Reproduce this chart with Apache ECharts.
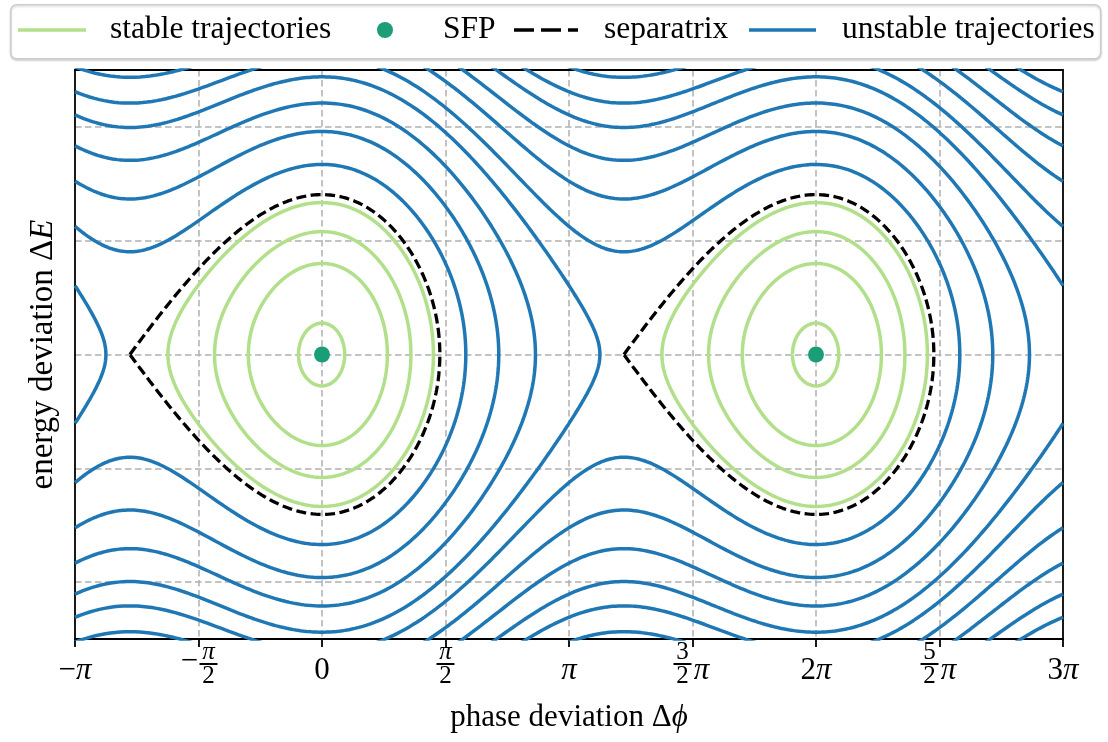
<!DOCTYPE html>
<html>
<head>
<meta charset="utf-8">
<script src="https://cdn.jsdelivr.net/npm/echarts@6/dist/echarts.min.js"></script>
<style>
  html, body { margin: 0; padding: 0; background: #ffffff; }
  #chart { width: 1108px; height: 742px; }
</style>
</head>
<body>
<div id="chart"></div>
<script>
// ---- values -------------------------------------------------------------
// synchronous phase of the accelerating bucket (degrees)
const syncPhaseDeg = -20;
// half height of the separatrix at the stable fixed point (energy units)
const separatrixHeight = 1.405;
// energy deviation of each stable orbit above the SFP
const stableHeights = [0.276, 0.80, 1.08, 1.335];
// energy deviation where each open trajectory crosses Δϕ = 0
const unstableHeights = [1.67, 1.96, 2.21, 2.44];
// stable fixed points, in units of π
const sfpPhases = [0, 2];
// axis extents (phase in units of π)
const phaseRange = [-1, 3];
const energyRange = [-2.5, 2.5];
const phaseTicks = [-1, -0.5, 0, 0.5, 1, 1.5, 2, 2.5, 3];
const phaseTickLabels = ['−π', '−π/2', '0', 'π/2', 'π', '3/2π', '2π', '5/2π', '3π'];
const legendNames = ['stable trajectories', 'SFP', 'separatrix', 'unstable trajectories'];

// ---- longitudinal Hamiltonian  H = p²/2 + W(ϕ) ---------------------------
const PI = Math.PI;
const phs = syncPhaseDeg * PI / 180;
const sinS = Math.sin(phs), cosS = Math.cos(phs);
const W = phi => cosS - Math.cos(phi + phs) - phi * sinS;   // W(0) = 0 at the SFP
const ufpLeft = -PI - 2 * phs;                               // unstable fixed point left of ϕ = 0
const ufpRight = ufpLeft + 2 * PI;

function bisect(f, a, b) {
  let fa = f(a);
  for (let i = 0; i < 80; i++) {
    const m = 0.5 * (a + b), fm = f(m);
    if ((fm >= 0) === (fa >= 0)) { a = m; fa = fm; } else { b = m; }
  }
  return 0.5 * (a + b);
}

const sepLevel = W(ufpLeft);
const sepRight = bisect(p => W(p) - sepLevel, 0, ufpRight);
const scale = separatrixHeight / Math.sqrt(2 * sepLevel);
const levelOf = h => 0.5 * (h / scale) * (h / scale);
const dE = (phi, lev) => scale * Math.sqrt(Math.max(0, 2 * (lev - W(phi))));

const N = 360;

// closed orbit between turning points a and b, shifted by k periods
function closedOrbit(a, b, lev, k) {
  const up = [], lo = [];
  for (let i = 0; i <= N; i++) {
    const phi = a + (b - a) * (1 - Math.cos(PI * i / N)) / 2;
    const x = (phi + 2 * PI * k) / PI;
    const y = dE(phi, lev);
    up.push([x, y]);
    lo.push([x, -y]);
  }
  return up.concat(lo.reverse());
}

function stableOrbit(h, k) {
  const lev = levelOf(h);
  const a = bisect(p => W(p) - lev, ufpLeft, 0);
  const b = bisect(p => W(p) - lev, 0, sepRight);
  return closedOrbit(a, b, lev, k);
}

// open trajectories of one level, over the visible window shifted by k periods
function openTrajectories(h, k) {
  const lev = levelOf(h);
  const L = phaseRange[0] * PI - 2 * PI * k;
  const R = phaseRange[1] * PI - 2 * PI * k;
  const g = p => lev - W(p);
  const M = 3000;
  const segs = [];
  let start = g(L) >= 0 ? { at: L, edge: true } : null;
  let prev = L;
  for (let i = 1; i <= M; i++) {
    const p = L + (R - L) * i / M;
    const inside = g(p) >= 0, wasInside = g(prev) >= 0;
    if (inside && !wasInside) start = { at: bisect(g, prev, p), edge: false };
    if (!inside && wasInside) {
      segs.push([start, { at: bisect(g, prev, p), edge: false }]);
      start = null;
    }
    prev = p;
  }
  if (start) segs.push([start, { at: R, edge: true }]);

  const lines = [];
  const toX = phi => (phi + 2 * PI * k) / PI;
  const yMax = energyRange[1];
  for (const [s, e] of segs) {
    if (!s.edge && !e.edge) continue;               // orbits inside a bucket
    const a = s.at, b = e.at;
    let minE = Infinity;
    for (let i = 0; i <= 200; i++) minE = Math.min(minE, dE(a + (b - a) * i / 200, lev));
    if (minE > yMax) continue;                      // never enters the window
    const up = [], lo = [];
    if (s.edge && e.edge) {
      for (let i = 0; i <= N; i++) {
        const phi = a + (b - a) * i / N;
        const y = dE(phi, lev);
        up.push([toX(phi), y]); lo.push([toX(phi), -y]);
      }
      lines.push(up, lo);
    } else if (s.edge) {                            // turning point on the right
      for (let i = 0; i <= N; i++) {
        const u = i / N;
        const phi = b - (b - a) * (1 - u) * (1 - u);
        const y = dE(phi, lev);
        up.push([toX(phi), y]); lo.push([toX(phi), -y]);
      }
      lines.push(up.concat(lo.reverse()));
    } else {                                        // turning point on the left
      for (let i = 0; i <= N; i++) {
        const u = i / N;
        const phi = a + (b - a) * u * u;
        const y = dE(phi, lev);
        up.push([toX(phi), y]); lo.push([toX(phi), -y]);
      }
      lines.push(up.reverse().concat(lo));
    }
  }
  return lines;
}

// ---- series --------------------------------------------------------------
const BLUE = '#1f78b4', GREEN = '#b2df8a', TEAL = '#1b9e77', BLACK = '#000000';
const FONT = '"Liberation Serif", "DejaVu Serif", serif';
const LW = 3.5;
const series = [];
const lineBase = { type: 'line', symbol: 'none', silent: true, animation: false, clip: true };

for (const h of unstableHeights) {
  for (let k = -2; k <= 4; k++) {
    for (const pts of openTrajectories(h, k)) {
      series.push(Object.assign({}, lineBase, {
        name: legendNames[3], data: pts, z: 3,
        lineStyle: { color: BLUE, width: LW }, itemStyle: { color: BLUE }
      }));
    }
  }
}
sfpPhases.forEach(c => {
  const k = Math.round(c / 2);
  for (const h of stableHeights) {
    series.push(Object.assign({}, lineBase, {
      name: legendNames[0], data: stableOrbit(h, k), z: 4,
      lineStyle: { color: GREEN, width: LW }, itemStyle: { color: GREEN }
    }));
  }
  series.push(Object.assign({}, lineBase, {
    name: legendNames[2], data: closedOrbit(ufpLeft, sepRight, sepLevel, k), z: 5,
    lineStyle: { color: BLACK, width: 3.3, type: [10, 4.5] }, itemStyle: { color: BLACK }
  }));
});
series.push({
  type: 'scatter', name: legendNames[1], symbol: 'circle', symbolSize: 16, z: 6, animation: false,
  itemStyle: { color: TEAL, opacity: 1 },
  data: sfpPhases.map(c => [c, 0])
});

// ---- tick labels (π in italic, fractions stacked over a rule) ------------
function plainPart(s) {
  return s.split('π').map(t => t ? '{t|' + t + '}' : '').join('{ti|π}');
}
function tickLabel(v) {
  const i = phaseTicks.findIndex(t => Math.abs(t - v) < 1e-9);
  if (i < 0) return '';
  const s = phaseTickLabels[i];
  const m = s.match(/^(−?)([^/]+)\/(\d)(π?)$/);
  if (!m) return plainPart(s);
  const sign = m[1], num = m[2], den = m[3], tail = m[4];
  const pre = sign ? '{sp| }' : '', post = tail ? '{sp2| }' : '';
  const numTok = num === 'π' ? '{ni|π}' : '{n|' + num + '}';
  return pre + numTok + post + '\n' +
    (sign ? '{minus|−}' : '') + '{bar| }' + (tail ? '{pi|π}' : '') + '\n' +
    pre + '{n|' + den + '}' + post;
}

// ---- legend: one component per entry inside a shared frame ---------------
const legendRow = { top: 14, padding: 0, itemHeight: 3.6, symbolKeepAspect: false, selectedMode: false };
const legendText = (padLeft) => ({ fontFamily: FONT, fontSize: 31.5, color: BLACK, padding: [0, 0, 0, padLeft] });
const legends = [
  Object.assign({}, legendRow, { left: 18, itemWidth: 68, textStyle: legendText(19),
    data: [{ name: legendNames[0], icon: 'rect' }] }),
  Object.assign({}, legendRow, { left: 377, itemWidth: 16, itemHeight: 16, textStyle: legendText(45),
    data: [{ name: legendNames[1], icon: 'circle' }] }),
  Object.assign({}, legendRow, { left: 514, itemWidth: 64, textStyle: legendText(21),
    data: [{ name: legendNames[2], icon: 'path://M0,0H20V4H0Z M27,0H47V4H27Z M54,0H64V4H54Z' }] }),
  Object.assign({}, legendRow, { left: 749, itemWidth: 67, textStyle: legendText(21),
    data: [{ name: legendNames[3], icon: 'rect' }] })
];

const gridLine = { show: true, showMinLine: false, showMaxLine: false,
  lineStyle: { color: '#b0b0b0', width: 1.5, type: [6.5, 3.5] } };
const spine = { show: true, onZero: false, lineStyle: { color: BLACK, width: 1.8 } };
const nameStyle = (size) => ({ fontFamily: FONT, fontSize: size, color: BLACK,
  rich: { i: { fontFamily: FONT, fontSize: size, fontStyle: 'italic', color: BLACK } } });

const option = {
  backgroundColor: '#ffffff',
  animation: false,
  textStyle: { fontFamily: FONT },
  graphic: [{
    type: 'rect', left: 10, top: 4, z: -10,
    shape: { width: 1090, height: 54, r: 6 },
    style: { fill: '#ffffff', stroke: '#cccccc', lineWidth: 1.5,
      shadowColor: 'rgba(0,0,0,0.15)', shadowBlur: 2, shadowOffsetY: 1.5 }
  }],
  legend: legends,
  grid: { left: 75, right: 45, top: 70, bottom: 103, show: false },
  xAxis: [{
    type: 'value', min: phaseRange[0], max: phaseRange[1], interval: 0.5,
    axisLine: spine,
    axisTick: { show: true, inside: false, length: 8, lineStyle: { color: BLACK, width: 1.8 } },
    splitLine: gridLine,
    axisLabel: {
      margin: 4, color: BLACK, fontFamily: FONT, formatter: tickLabel,
      rich: {
        t: { fontFamily: FONT, fontSize: 31, color: BLACK, lineHeight: 55 },
        ti: { fontFamily: FONT, fontSize: 31, fontStyle: 'italic', color: BLACK, lineHeight: 55 },
        n: { fontFamily: FONT, fontSize: 25, color: BLACK, lineHeight: 18, width: 18, align: 'center' },
        ni: { fontFamily: FONT, fontSize: 25, fontStyle: 'italic', color: BLACK, lineHeight: 18, width: 18, align: 'center' },
        sp: { fontSize: 8, width: 20, lineHeight: 18 },
        sp2: { fontSize: 8, width: 20, lineHeight: 18 },
        minus: { fontFamily: FONT, fontSize: 31, color: BLACK, width: 20, lineHeight: 6, height: 1, verticalAlign: 'top' },
        bar: { fontSize: 2, width: 18, height: 2, lineHeight: 6, backgroundColor: BLACK, align: 'center' },
        pi: { fontFamily: FONT, fontSize: 31, fontStyle: 'italic', color: BLACK, width: 20, lineHeight: 6, height: 19, verticalAlign: 'top', align: 'center' }
      }
    },
    name: 'phase deviation Δ{i|ϕ}',
    nameLocation: 'middle', nameGap: 63,
    nameTextStyle: nameStyle(31)
  }, {
    type: 'value', position: 'top', min: phaseRange[0], max: phaseRange[1],
    axisLine: spine, axisTick: { show: false }, axisLabel: { show: false }, splitLine: { show: false }
  }],
  yAxis: [{
    type: 'value', min: energyRange[0], max: energyRange[1], splitNumber: 5,
    axisLine: spine, axisTick: { show: false }, axisLabel: { show: false },
    splitLine: gridLine,
    name: 'energy deviation Δ{i|E}',
    nameLocation: 'middle', nameGap: 15,
    nameTextStyle: nameStyle(33)
  }, {
    type: 'value', position: 'right', min: energyRange[0], max: energyRange[1],
    axisLine: spine, axisTick: { show: false }, axisLabel: { show: false }, splitLine: { show: false }
  }],
  series: series
};

const chart = echarts.init(document.getElementById('chart'), null, { renderer: 'canvas' });
chart.setOption(option);
</script>
</body>
</html>
